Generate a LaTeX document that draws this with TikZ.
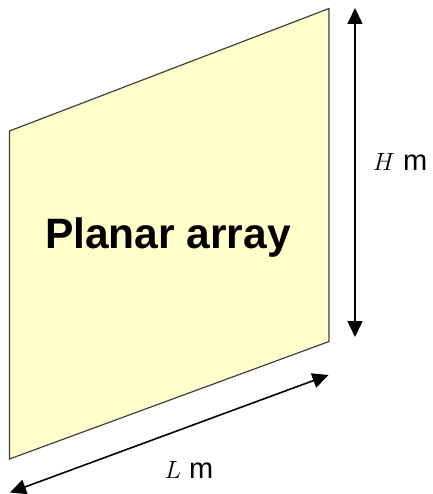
\documentclass[tikz,border=0pt]{standalone}
\usepackage{fontspec}
\setmainfont{Liberation Sans}
\usepackage{xcolor}
\definecolor{clPanel}{HTML}{FFFFCC}
\definecolor{clEdge}{HTML}{404040}
\usetikzlibrary{arrows.meta,positioning,calc}
\tikzset{
  panel/.style={draw=clEdge, fill=clPanel, line width=1.2pt, line join=miter},
  dimline/.style={{Triangle[length=16pt,width=15pt]}-{Triangle[length=16pt,width=15pt]}, line width=1.6pt, draw=black},
  dimlabel/.style={font=\fontsize{29}{32}\selectfont, inner sep=0pt},
  title/.style={font=\fontsize{42.5}{48}\selectfont\bfseries, inner sep=0pt},
}
\begin{document}
\begin{tikzpicture}[x=1pt, y=-1pt]
  \useasboundingbox (0,0) rectangle (432,494);
  % the array panel
  \coordinate (tl) at (9.5,131);
  \coordinate (tr) at (329,8.5);
  \coordinate (br) at (329,341.5);
  \coordinate (bl) at (9.5,459);
  \draw[panel] (tl) -- (tr) -- (br) -- (bl) -- cycle;
  \node[title] (arr) at (168,238) {Planar array};
  % height
  \coordinate (htop) at (355,8);
  \coordinate (hbot) at (355,337);
  \draw[dimline] (htop) -- (hbot);
  \node[dimlabel] (hlab) at (400,162) {$H$ m};
  % length
  \coordinate (lbeg) at (10,492.5);
  \coordinate (lend) at (328.5,375);
  \draw[dimline] (lbeg) -- (lend);
  \node[dimlabel] (llab) at (189,470) {$L$ m};
\end{tikzpicture}
\end{document}
